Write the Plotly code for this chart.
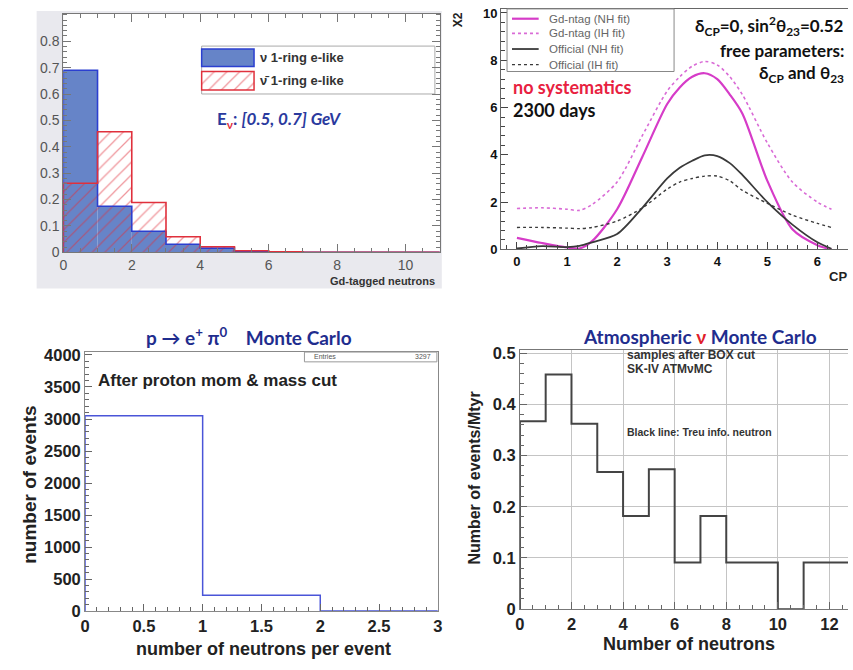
import plotly.graph_objects as go
import numpy as np

W, H = 853, 670
def PX(x): return x / W
def PY(y): return 1 - y / H

# ---------------- data ----------------
# Panel 1: Gd-tagged neutrons, E_nu in [0.5, 0.7] GeV
p1_edges = list(range(12))
p1_nu = [0.690, 0.175, 0.080, 0.031, 0.016, 0.003, 0.001, 0.0, 0.0, 0.0, 0.0]
p1_nubar = [0.262, 0.457, 0.189, 0.059, 0.021, 0.006, 0.002, 0.0005, 0.0, 0.0, 0.0]

# Panel 2: chi2 vs delta_CP
p2_x = [0, 0.5, 1, 1.25, 1.5, 2, 2.5, 3, 3.25, 3.5, 3.75, 4, 4.25, 4.5, 5, 5.5, 6, 6.28]
p2_gd_nh = [0.49, 0.27, 0.08, 0.04, 0.35, 1.7, 3.9, 6.15, 6.85, 7.3, 7.45, 7.2, 6.55, 5.75, 2.9, 0.85, 0.18, 0.0]
p2_gd_ih = [1.73, 1.76, 1.7, 1.65, 1.9, 2.85, 4.8, 6.7, 7.3, 7.75, 7.95, 7.8, 7.3, 6.55, 4.5, 2.85, 2.0, 1.7]
p2_of_nh = [0.04, 0.14, 0.1, 0.15, 0.3, 0.65, 1.75, 3.0, 3.45, 3.75, 3.98, 3.95, 3.65, 3.15, 2.0, 1.05, 0.3, 0.03]
p2_of_ih = [0.93, 0.93, 0.9, 0.88, 0.93, 1.2, 1.75, 2.55, 2.85, 3.0, 3.1, 3.1, 2.9, 2.5, 1.95, 1.45, 1.1, 0.93]
p2_names = ["Gd-ntag (NH fit)", "Gd-ntag (IH fit)", "Official (NH fit)", "Official (IH fit)"]

# Panel 3: p -> e+ pi0 MC
p3_edges = [0, 1, 2, 3]
p3_vals = [3050, 250, 3]

# Panel 4: atmospheric nu MC
p4_edges = list(range(14))
p4_vals = [0.367, 0.458, 0.362, 0.268, 0.182, 0.273, 0.091, 0.182, 0.091, 0.091, 0.0, 0.091, 0.091]

# ---------------- helpers ----------------
def step_xy(edges, vals):
    x = [edges[0]] + list(edges)
    y = [0] + list(vals) + [vals[-1]]
    return x, y

ROOT = "Liberation Sans, Arial, sans-serif"
SLIDE = "Lato, Open Sans, sans-serif"
BLUE_FILL = "#6684c8"
BLUE_LINE = "#2b3fd0"
RED = "#e0303c"
MAG = "#d63cc8"
MAG2 = "#d96bd6"
DARK = "#3a3a3a"
CLEAR = "rgba(0,0,0,0)"
HATCH = dict(shape="/", size=9, solidity=0.14, fgcolor=RED, bgcolor=CLEAR, fillmode="overlay")

fig = go.Figure()

# Panel 1 bars + outlines
centers1 = [(p1_edges[i] + p1_edges[i + 1]) / 2 for i in range(len(p1_nu))]
fig.add_trace(go.Bar(x=centers1, y=p1_nu, width=1, marker=dict(color=BLUE_FILL, line=dict(width=0)),
                     xaxis="x", yaxis="y", showlegend=False, hoverinfo="skip"))
fig.add_trace(go.Bar(x=centers1, y=p1_nubar, width=1,
                     marker=dict(color=CLEAR, line=dict(width=0), pattern=HATCH),
                     xaxis="x", yaxis="y", showlegend=False, hoverinfo="skip"))
sx, sy = step_xy(p1_edges, p1_nu)
fig.add_trace(go.Scatter(x=sx, y=sy, mode="lines", line=dict(color=BLUE_LINE, width=1.6, shape="hv"),
                         xaxis="x", yaxis="y", showlegend=False))
sx, sy = step_xy(p1_edges, p1_nubar)
fig.add_trace(go.Scatter(x=sx, y=sy, mode="lines", line=dict(color=RED, width=1.6, shape="hv"),
                         xaxis="x", yaxis="y", showlegend=False))

# Panel 2 curves
styles = [(MAG, "solid", 2.2), (MAG2, "dot", 1.6), (DARK, "solid", 1.8), (DARK, "dot", 1.4)]
for ys, (c, d, w) in zip([p2_gd_nh, p2_gd_ih, p2_of_nh, p2_of_ih], styles):
    fig.add_trace(go.Scatter(x=p2_x, y=ys, mode="lines",
                             line=dict(color=c, dash=d, width=w, shape="spline", smoothing=0.8),
                             xaxis="x2", yaxis="y2", showlegend=False))

# Panel 3 histogram
sx, sy = step_xy(p3_edges, p3_vals)
fig.add_trace(go.Scatter(x=sx, y=sy, mode="lines", line=dict(color="#4a55d8", width=1.5, shape="hv"),
                         xaxis="x3", yaxis="y3", showlegend=False))

# Panel 4 histogram
sx, sy = step_xy(p4_edges, p4_vals)
fig.add_trace(go.Scatter(x=sx, y=sy, mode="lines", line=dict(color="#444", width=2, shape="hv"),
                         xaxis="x4", yaxis="y4", showlegend=False))

# Legend swatch (hatched) for panel 1
fig.add_trace(go.Bar(x=[0.5], y=[1], width=1,
                     marker=dict(color=CLEAR, line=dict(width=0), pattern=HATCH),
                     xaxis="x5", yaxis="y5", showlegend=False, hoverinfo="skip"))

def ax_common(**kw):
    d = dict(showline=True, ticks="inside", zeroline=False, showgrid=False)
    d.update(kw)
    return d

BIGTICK = dict(family=ROOT, size=16.5, color="#222", weight="bold")

layout = dict(
    width=W, height=H, margin=dict(l=0, r=0, t=0, b=0),
    paper_bgcolor="white", plot_bgcolor="white", barmode="overlay",
    xaxis=ax_common(domain=[PX(59), PX(440)], range=[0, 11], anchor="y", mirror="ticks",
                    linecolor="#777", tickcolor="#777", ticklen=8, dtick=2,
                    minor=dict(ticks="inside", ticklen=4, dtick=0.5, tickcolor="#777"),
                    tickfont=dict(family=ROOT, size=14, color="#555")),
    yaxis=ax_common(domain=[PY(252), PY(8)], range=[0, 0.904], anchor="x", mirror="ticks",
                    linecolor="#777", tickcolor="#777", ticklen=8,
                    tickvals=[0, 0.1, 0.2, 0.3, 0.4, 0.5, 0.6, 0.7, 0.8],
                    ticktext=["0", "0.1", "0.2", "0.3", "0.4", "0.5", "0.6", "0.7", "0.8"],
                    minor=dict(ticks="inside", ticklen=4, dtick=0.02, tickcolor="#777"),
                    tickfont=dict(family=ROOT, size=14, color="#555")),
    xaxis2=ax_common(domain=[PX(502), 1.0], range=[-0.316, 6.61], anchor="y2", mirror=True,
                     linecolor="#666", tickcolor="#444", ticklen=7, dtick=1,
                     minor=dict(ticks="inside", ticklen=4, dtick=0.2, tickcolor="#444"),
                     tickfont=dict(family=ROOT, size=13, color="#111", weight="bold")),
    yaxis2=ax_common(domain=[PY(249), PY(3)], range=[0, 10.17], anchor="x2",
                     linecolor="#666", tickcolor="#444", ticklen=7, dtick=2,
                     minor=dict(ticks="inside", ticklen=4, dtick=0.4, tickcolor="#444"),
                     tickfont=dict(family=ROOT, size=13, color="#111", weight="bold")),
    xaxis3=ax_common(domain=[PX(81), PX(438)], range=[0, 3], anchor="y3", mirror=True,
                     linecolor="#888", tickcolor="#666", ticklen=7, dtick=0.5,
                     minor=dict(ticks="inside", ticklen=4, dtick=0.1, tickcolor="#666"),
                     tickfont=BIGTICK),
    yaxis3=ax_common(domain=[PY(619), PY(354)], range=[0, 4045], anchor="x3", mirror=True,
                     linecolor="#888", tickcolor="#666", ticklen=7, dtick=500,
                     minor=dict(ticks="inside", ticklen=4, dtick=100, tickcolor="#666"),
                     tickfont=BIGTICK),
    xaxis4=ax_common(domain=[PX(521), 1.0], range=[0, 12.72], anchor="y4", mirror=True,
                     linecolor="#777", tickcolor="#666", ticklen=7, dtick=2,
                     showgrid=True, gridcolor="#c4c4c4",
                     minor=dict(ticks="inside", ticklen=4, dtick=0.5, tickcolor="#666"),
                     tickfont=BIGTICK),
    yaxis4=ax_common(domain=[PY(617), PY(352)], range=[0, 0.5057], anchor="x4",
                     linecolor="#777", tickcolor="#666", ticklen=7, dtick=0.1,
                     showgrid=True, gridcolor="#c4c4c4",
                     minor=dict(ticks="inside", ticklen=4, dtick=0.02, tickcolor="#666"),
                     tickfont=BIGTICK),
    xaxis5=dict(domain=[PX(199), PX(252)], range=[0, 1], anchor="y5", visible=False),
    yaxis5=dict(domain=[PY(86), PY(67)], range=[0, 1], anchor="x5", visible=False),
)
fig.update_layout(**layout)

shapes = [
    # panel 1 gray background and white plot area
    dict(type="rect", xref="paper", yref="paper", x0=PX(32), x1=PX(442), y0=PY(289), y1=PY(5),
         fillcolor="#e9e9ee", line=dict(width=0), layer="below"),
    dict(type="rect", xref="paper", yref="paper", x0=PX(59), x1=PX(440), y0=PY(252), y1=PY(8),
         fillcolor="white", line=dict(width=0), layer="below"),
    # panel 1 legend
    dict(type="rect", xref="paper", yref="paper", x0=PX(199), x1=PX(435), y0=PY(90), y1=PY(41),
         fillcolor="white", line=dict(color="#aaa", width=1), layer="below"),
    dict(type="rect", xref="paper", yref="paper", x0=PX(199), x1=PX(252), y0=PY(62), y1=PY(44),
         fillcolor=BLUE_FILL, line=dict(color=BLUE_LINE, width=1.5)),
    dict(type="rect", xref="paper", yref="paper", x0=PX(199), x1=PX(252), y0=PY(86), y1=PY(67),
         fillcolor=CLEAR, line=dict(color=RED, width=1.5)),
    # panel 2 legend
    dict(type="rect", xref="paper", yref="paper", x0=PX(508), x1=PX(677), y0=PY(67), y1=PY(3),
         fillcolor="white", line=dict(color="#888", width=1)),
    # panel 3 stats box
    dict(type="rect", xref="paper", yref="paper", x0=PX(303), x1=PX(437), y0=PY(364), y1=PY(354),
         fillcolor="white", line=dict(color="#999", width=1)),
]
leg_y = [13, 28, 44, 60]
for yy, (c, d, w) in zip(leg_y, styles):
    shapes.append(dict(type="line", xref="paper", yref="paper", x0=PX(513), x1=PX(540),
                       y0=PY(yy), y1=PY(yy), line=dict(color=c, dash=d, width=w)))
fig.update_layout(shapes=shapes)

NAVY = "#1f2d8e"
ann = []
def A(text, x, y, size, color="#222", family=ROOT, xanchor="center", weight="normal", angle=0):
    ann.append(dict(text=text, x=PX(x), y=PY(y), xref="paper", yref="paper", showarrow=False,
                    xanchor=xanchor, yanchor="middle", textangle=angle, borderpad=0,
                    font=dict(family=family, size=size, color=color, weight=weight)))

# Panel 1 texts
A("Gd-tagged neutrons", 436, 281, 11, color="#333", xanchor="right", weight="bold")
A("\u03bd 1-ring e-like", 257, 53, 13, color="#333", xanchor="left", weight="bold")
A("\u03bd\u0304 1-ring e-like", 257, 76, 13, color="#333", xanchor="left", weight="bold")
A("E<sub><span style='color:#e0303c'>\u03bd</span></sub>: <i>[0.5, 0.7] GeV</i>", 213, 117, 17,
  color="#2a3a9e", family=SLIDE, xanchor="left", weight="bold")

# Panel 2 texts
A("X2", 458, 14, 12, color="#222", weight="bold", angle=-90)
A("CP", 853, 277, 13, color="#222", xanchor="right", weight="bold")
for yy, name in zip(leg_y, p2_names):
    A(name, 549, yy, 11.5, color="#666", xanchor="left")
A("\u03b4<sub>CP</sub>=0, sin<sup>2</sup>\u03b8<sub>23</sub>=0.52", 850, 20, 17, color="#111", family=SLIDE,
  xanchor="right", weight="bold")
A("free parameters:", 850, 46, 17, color="#111", family=SLIDE, xanchor="right", weight="bold")
A("\u03b4<sub>CP</sub> and \u03b8<sub>23</sub>", 850, 70, 17, color="#111", family=SLIDE, xanchor="right", weight="bold")
A("no systematics", 513, 83, 18, color="#e8213f", family=SLIDE, xanchor="left", weight="bold")
A("2300 days", 513, 106, 18, color="#111", family=SLIDE, xanchor="left", weight="bold")

# Panel 3 texts
A("p \u2192 e<sup>+</sup> \u03c0<sup>0</sup>\u00a0\u00a0\u00a0 Monte Carlo", 247, 338, 19, color=NAVY, family=SLIDE, weight="bold")
A("After proton mom & mass cut", 93, 383, 17, color="#222", xanchor="left", weight="bold")
A("Entries", 312, 359, 7, color="#555", xanchor="left")
A("3297", 432, 359, 7, color="#555", xanchor="right")
A("number of events", 24, 490, 19, color="#222", weight="bold", angle=-90)
A("number of neutrons per event", 262, 658, 18, color="#222", weight="bold")

# Panel 4 texts
A("Atmospheric <span style='color:#e0202a'>\u03bd</span> Monte Carlo", 703, 338, 19, color=NAVY, family=SLIDE, weight="bold")
A("samples after BOX cut", 628, 357, 12, color="#333", xanchor="left", weight="bold")
A("SK-IV ATM\u03bdMC", 628, 371, 12, color="#333", xanchor="left", weight="bold")
A("Black line: Treu info. neutron", 628, 436, 10.5, color="#333", xanchor="left", weight="bold")
A("Number of events/Mtyr", 475, 483, 16, color="#222", weight="bold", angle=-90)
A("Number of neutrons", 692, 653, 18, color="#222", weight="bold")

fig.update_layout(annotations=ann)
fig.write_html("out.html", config={"displayModeBar": False},
               post_script="document.body.style.margin='0';document.body.style.padding='0';document.body.style.overflow='hidden';")
